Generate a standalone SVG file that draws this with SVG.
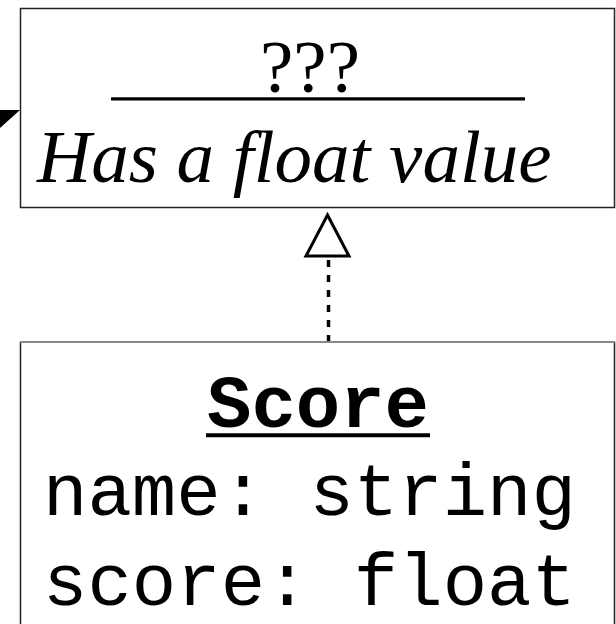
<svg xmlns="http://www.w3.org/2000/svg" width="616" height="624" viewBox="0 0 616 624">
<style>
.box{fill:#fff;stroke:#222;stroke-width:1.5}
.serif{font-family:"Liberation Serif","Times New Roman",serif;font-size:75px;fill:#000}
.mono{font-family:"Liberation Mono","Courier New",monospace;font-size:74px;fill:#000}
</style>
<g id="connectors">
<line x1="328.5" y1="342" x2="328.5" y2="260" stroke="#000" stroke-width="3.5" stroke-dasharray="7,8"/>
<path d="M327.5,215 L349,256 L306,256 Z" fill="#fff" stroke="#000" stroke-width="3"/>
<polygon points="0,110 20,110 0,128" fill="#000"/>
</g>
<g id="node-unknown">
<rect class="box" x="20.5" y="8.5" width="594" height="199"/>
<text class="serif" x="310" y="92" text-anchor="middle">???</text>
<line x1="111" y1="98.8" x2="525" y2="98.8" stroke="#000" stroke-width="3.2"/>
<text class="serif" x="37" y="182" font-style="italic">Has a float value</text>
</g>
<g id="node-score">
<rect class="box" x="20.5" y="342" width="594" height="300"/>
<line x1="20" y1="342" x2="615" y2="342" stroke="#888" stroke-width="2"/>
<text class="mono" x="318" y="427" text-anchor="middle" font-weight="bold">Score</text>
<line x1="206" y1="435.3" x2="430" y2="435.3" stroke="#000" stroke-width="4"/>
<text class="mono" x="43" y="515">name: string</text>
<text class="mono" x="43" y="605">score: float</text>
</g>
</svg>
